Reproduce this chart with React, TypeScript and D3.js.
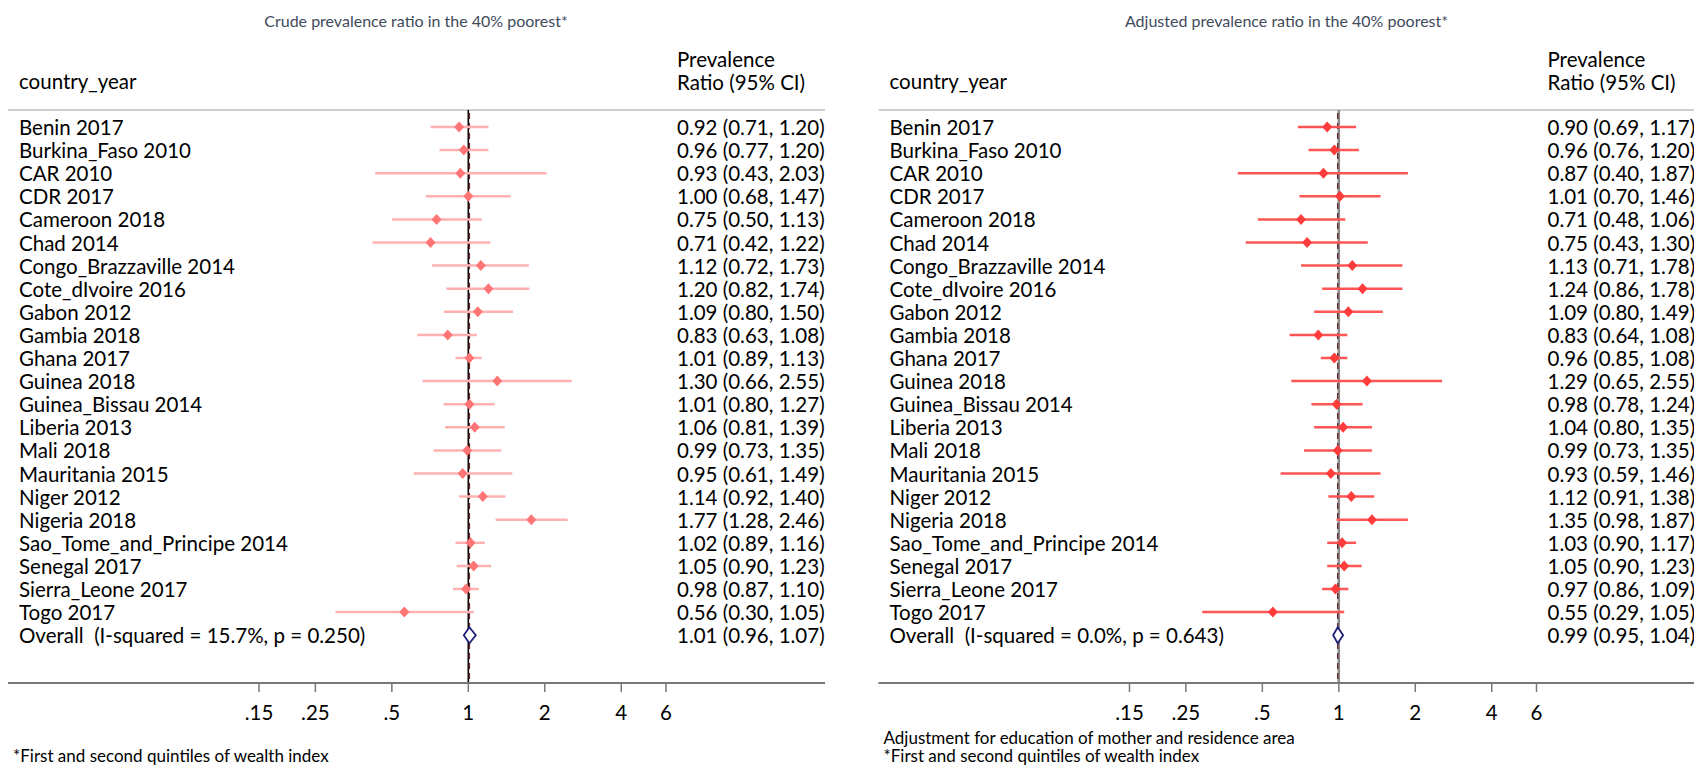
import React from "react";
import * as d3 from "d3";

const countries = [
  "Benin 2017", "Burkina_Faso 2010", "CAR 2010", "CDR 2017", "Cameroon 2018", "Chad 2014",
  "Congo_Brazzaville 2014", "Cote_dIvoire 2016", "Gabon 2012", "Gambia 2018", "Ghana 2017",
  "Guinea 2018", "Guinea_Bissau 2014", "Liberia 2013", "Mali 2018", "Mauritania 2015",
  "Niger 2012", "Nigeria 2018", "Sao_Tome_and_Principe 2014", "Senegal 2017",
  "Sierra_Leone 2017", "Togo 2017",
];

const crudeEst = [0.92, 0.96, 0.93, 1.0, 0.75, 0.71, 1.12, 1.2, 1.09, 0.83, 1.01, 1.3, 1.01, 1.06, 0.99, 0.95, 1.14, 1.77, 1.02, 1.05, 0.98, 0.56];
const crudeLo = [0.71, 0.77, 0.43, 0.68, 0.5, 0.42, 0.72, 0.82, 0.8, 0.63, 0.89, 0.66, 0.8, 0.81, 0.73, 0.61, 0.92, 1.28, 0.89, 0.9, 0.87, 0.3];
const crudeHi = [1.2, 1.2, 2.03, 1.47, 1.13, 1.22, 1.73, 1.74, 1.5, 1.08, 1.13, 2.55, 1.27, 1.39, 1.35, 1.49, 1.4, 2.46, 1.16, 1.23, 1.1, 1.05];
const crudeOverall = { est: 1.01, lo: 0.96, hi: 1.07, label: "Overall  (I-squared = 15.7%, p = 0.250)" };

const adjEst = [0.9, 0.96, 0.87, 1.01, 0.71, 0.75, 1.13, 1.24, 1.09, 0.83, 0.96, 1.29, 0.98, 1.04, 0.99, 0.93, 1.12, 1.35, 1.03, 1.05, 0.97, 0.55];
const adjLo = [0.69, 0.76, 0.4, 0.7, 0.48, 0.43, 0.71, 0.86, 0.8, 0.64, 0.85, 0.65, 0.78, 0.8, 0.73, 0.59, 0.91, 0.98, 0.9, 0.9, 0.86, 0.29];
const adjHi = [1.17, 1.2, 1.87, 1.46, 1.06, 1.3, 1.78, 1.78, 1.49, 1.08, 1.08, 2.55, 1.24, 1.35, 1.35, 1.46, 1.38, 1.87, 1.17, 1.23, 1.09, 1.05];
const adjOverall = { est: 0.99, lo: 0.95, hi: 1.04, label: "Overall  (I-squared = 0.0%, p = 0.643)" };

const tickValues = [0.15, 0.25, 0.5, 1, 2, 4, 6];
const tickLabels = [".15", ".25", ".5", "1", "2", "4", "6"];

const FONT = "Lato, 'Open Sans', sans-serif";
const f2 = d3.format(".2f");
const FS = 20.5;

type PanelProps = {
  offset: number;
  right: number;
  title: string;
  est: number[];
  lo: number[];
  hi: number[];
  overall: { est: number; lo: number; hi: number; label: string };
  notes: string[];
  lineColor: string;
  markerColor: string;
  refColor: string;
  refWidth: number;
};

function Panel(p: PanelProps) {
  const o = p.offset;
  const x = d3.scaleLog().domain([0.15, 6]).range([259 + o, 666 + o]);
  const rowKeys = [...countries, "__overall"];
  const y = d3.scalePoint<string>().domain(rowKeys).range([127, 635.2]);
  const axisY = 683;
  const x1 = x(1);
  const yo = y("__overall")!;
  const xo = x(p.overall.est);
  return (
    <g fontFamily={FONT}>
      <text x={416 + o} y={20} textAnchor="middle" dominantBaseline="central" fontSize={16} fill="#3f4b5b">
        {p.title}
      </text>
      <text x={19 + o} y={81} dominantBaseline="central" fontSize={FS} fill="#000">country_year</text>
      <text x={677 + o} y={59} dominantBaseline="central" fontSize={FS} fill="#000">Prevalence</text>
      <text x={677 + o} y={82} dominantBaseline="central" fontSize={FS} fill="#000">Ratio (95% CI)</text>
      <line x1={8 + o} x2={p.right} y1={110} y2={110} stroke="#cfcfcf" strokeWidth={2} />

      <line x1={x1} x2={x1} y1={110} y2={axisY} stroke={p.refColor} strokeWidth={p.refWidth} />
      <line x1={xo} x2={xo} y1={113} y2={axisY} stroke="#6b2a2a" strokeWidth={1.4} strokeDasharray="6,4" />

      {countries.map((c, i) => {
        const yy = y(c)!;
        const xe = x(p.est[i]);
        return (
          <g key={c}>
            <text x={19 + o} y={yy} dominantBaseline="central" fontSize={FS} fill="#000">{c}</text>
            <line x1={x(p.lo[i])} x2={x(p.hi[i])} y1={yy} y2={yy} stroke={p.lineColor} strokeWidth={2.5} />
            <path d={`M${xe},${yy - 5.5}L${xe + 5},${yy}L${xe},${yy + 5.5}L${xe - 5},${yy}Z`} fill={p.markerColor} />
            <text x={677 + o} y={yy} dominantBaseline="central" fontSize={FS} fill="#000">
              {`${f2(p.est[i])} (${f2(p.lo[i])}, ${f2(p.hi[i])})`}
            </text>
          </g>
        );
      })}

      <text x={19 + o} y={yo} dominantBaseline="central" fontSize={FS} fill="#000" style={{ whiteSpace: "pre" }}>
        {p.overall.label}
      </text>
      <path
        d={`M${x(p.overall.lo)},${yo}L${xo},${yo - 8}L${x(p.overall.hi)},${yo}L${xo},${yo + 8}Z`}
        fill="#fff"
        stroke="#1f1f78"
        strokeWidth={1.8}
      />
      <text x={677 + o} y={yo} dominantBaseline="central" fontSize={FS} fill="#000">
        {`${f2(p.overall.est)} (${f2(p.overall.lo)}, ${f2(p.overall.hi)})`}
      </text>

      <line x1={8 + o} x2={p.right} y1={axisY} y2={axisY} stroke="#777" strokeWidth={2} />
      {tickValues.map((t, i) => (
        <g key={t}>
          <line x1={x(t)} x2={x(t)} y1={axisY} y2={axisY + 9} stroke="#777" strokeWidth={1.5} />
          <text x={x(t)} y={712} textAnchor="middle" dominantBaseline="central" fontSize={FS} fill="#000">
            {tickLabels[i]}
          </text>
        </g>
      ))}

      {p.notes.map((n, i) => (
        <text key={n} x={13 + o} y={755 - (p.notes.length - 1 - i) * 18} dominantBaseline="central" fontSize={17} fill="#000">
          {n}
        </text>
      ))}
    </g>
  );
}

export default function App() {
  return (
    <svg width={1694} height={765} style={{ position: "absolute", left: 0, top: 0, background: "#fff" }}>
      <rect x={0} y={0} width={1694} height={765} fill="#fff" />
      <Panel
        offset={0}
        right={825}
        title="Crude prevalence ratio in the 40% poorest*"
        est={crudeEst}
        lo={crudeLo}
        hi={crudeHi}
        overall={crudeOverall}
        notes={["*First and second quintiles of wealth index"]}
        lineColor="#ffb0b0"
        markerColor="#ff7474"
        refColor="#000"
        refWidth={1.6}
      />
      <Panel
        offset={870.5}
        right={1694}
        title="Adjusted prevalence ratio in the 40% poorest*"
        est={adjEst}
        lo={adjLo}
        hi={adjHi}
        overall={adjOverall}
        notes={["Adjustment for education of mother and residence area", "*First and second quintiles of wealth index"]}
        lineColor="#ff5555"
        markerColor="#ff3c3c"
        refColor="#8a8a8a"
        refWidth={2.5}
      />
    </svg>
  );
}
